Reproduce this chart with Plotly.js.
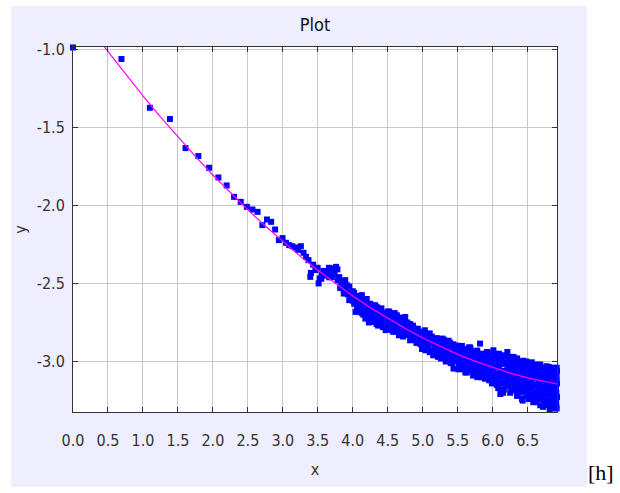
<!DOCTYPE html>
<html><head><meta charset="utf-8">
<script src="https://cdn.plot.ly/plotly-3.0.1.min.js"></script>
<style>
html,body{margin:0;padding:0;background:#fff;width:620px;height:493px;overflow:hidden;}
#chart{position:absolute;left:11px;top:6px;width:576px;height:481px;}
#h{position:absolute;left:588px;top:462px;font-family:"Liberation Serif","DejaVu Serif",serif;font-size:22px;color:#000;line-height:1;}
</style></head><body>
<div id="chart"></div><div id="h">[h]</div>
<script>
// sparse points (n = 1..50)
const sparseX = [0, 0.693, 1.099, 1.386, 1.609, 1.792, 1.946, 2.079, 2.197, 2.303,
  2.398, 2.485, 2.565, 2.639, 2.708, 2.773, 2.833, 2.890, 2.944, 2.996,
  3.045, 3.091, 3.135, 3.178, 3.219, 3.258, 3.296, 3.332, 3.367, 3.393, 3.401,
  3.434, 3.466, 3.497, 3.512, 3.526, 3.555, 3.584, 3.611, 3.638, 3.664, 3.689,
  3.714, 3.738, 3.761, 3.784, 3.807, 3.829, 3.850, 3.871, 3.892, 3.912];
const sparseY = [-0.99, -1.064, -1.376, -1.448, -1.634, -1.685, -1.760, -1.822, -1.873, -1.946,
  -1.978, -2.010, -2.027, -2.042, -2.127, -2.091, -2.106, -2.155, -2.223, -2.210,
  -2.240, -2.255, -2.262, -2.270, -2.285, -2.262, -2.304, -2.330, -2.351, -2.458, -2.433,
  -2.380, -2.415, -2.400, -2.500, -2.468, -2.440, -2.436, -2.430, -2.433, -2.461, -2.450,
  -2.433, -2.404, -2.394, -2.479, -2.460, -2.490, -2.500, -2.565, -2.479, -2.510];

// extra points in the 3.5 - 3.95 cluster
const clusterX = [3.55, 3.62, 3.68, 3.70, 3.74, 3.78, 3.82, 3.86, 3.90, 3.93, 3.58, 3.66];
const clusterY = [-2.47, -2.45, -2.41, -2.46, -2.44, -2.41, -2.53, -2.53, -2.55, -2.57, -2.42, -2.40];

// dense region: column x positions and the y values read in each column
const denseX = [3.95, 4.00, 4.04, 4.08, 4.13, 4.18, 4.23, 4.28, 4.32, 4.36, 4.39, 4.43, 4.47, 4.50,
  4.54, 4.58, 4.63, 4.66, 4.70, 4.75, 4.78, 4.82, 4.86, 4.89, 4.93, 4.97, 5.01, 5.04, 5.08, 5.13,
  5.17, 5.20, 5.24, 5.28, 5.31, 5.35, 5.37, 5.40, 5.44, 5.47, 5.49, 5.52, 5.56, 5.59, 5.61, 5.64,
  5.66, 5.69, 5.71, 5.73, 5.76, 5.79, 5.82, 5.85, 5.87, 5.90, 5.92, 5.95, 5.97, 6.00, 6.01, 6.04,
  6.06, 6.09, 6.11, 6.13, 6.16, 6.18, 6.21, 6.23, 6.25, 6.28, 6.30, 6.32, 6.35, 6.37, 6.40, 6.42,
  6.44, 6.46, 6.48, 6.50, 6.52, 6.54, 6.56, 6.58, 6.61, 6.63, 6.66, 6.68, 6.71, 6.73, 6.75, 6.77,
  6.80, 6.815, 6.82, 6.84, 6.86, 6.87, 6.89, 6.90, 6.91, 6.92];
const denseY = [
  [-2.52, -2.607, -2.56], [-2.61, -2.575, -2.55], [-2.682, -2.62, -2.59], [-2.65, -2.60, -2.68],
  [-2.575, -2.64, -2.69], [-2.725, -2.65, -2.62], [-2.66, -2.75, -2.70], [-2.747, -2.68, -2.64],
  [-2.640, -2.70, -2.74], [-2.66, -2.72, -2.77], [-2.682, -2.73, -2.70], [-2.78, -2.72, -2.69],
  [-2.799, -2.74, -2.70], [-2.72, -2.76, -2.68], [-2.725, -2.77, -2.70], [-2.70, -2.76, -2.81],
  [-2.704, -2.78, -2.74], [-2.832, -2.75, -2.79], [-2.74, -2.80, -2.76], [-2.715, -2.78, -2.82],
  [-2.779, -2.83, -2.75], [-2.864, -2.79, -2.76], [-2.80, -2.84, -2.77], [-2.799, -2.86, -2.82],
  [-2.84, -2.79, -2.88], [-2.842, -2.81, -2.89], [-2.810, -2.86, -2.90], [-2.928, -2.84, -2.82],
  [-2.83, -2.88, -2.91], [-2.875, -2.84, -2.93], [-2.86, -2.92, -2.89], [-2.960, -2.88, -2.85],
  [-2.87, -2.92, -2.94], [-2.853, -2.90, -2.96], [-2.88, -2.94, -2.98], [-2.995, -2.90, -2.87],
  [-2.867, -2.93, -2.96], [-2.89, -2.96, -3.01], [-3.045, -2.92, -2.97, -2.89], [-2.90, -2.95, -3.00],
  [-2.899, -2.93, -2.98], [-2.92, -2.97, -3.03], [-2.952, -2.90, -3.00], [-2.93, -2.98, -3.05],
  [-3.070, -2.95, -3.01], [-2.92, -2.96, -3.01], [-2.910, -2.99, -3.04], [-2.95, -3.02, -2.93],
  [-3.016, -2.97, -3.06], [-2.963, -3.00, -3.04], [-2.94, -3.03, -3.08], [-2.96, -3.00, -3.05],
  [-2.885, -2.97, -3.03], [-3.101, -2.98, -3.04, -2.95], [-3.00, -3.06, -2.96], [-2.995, -2.95, -3.08],
  [-2.939, -3.03, -3.10, -2.99], [-2.98, -3.05, -3.12], [-2.96, -3.02, -3.08], [-2.95, -3.04, -3.11, -3.00],
  [-2.928, -3.06], [-3.123, -2.97, -3.03], [-2.99, -3.08, -3.15], [-2.95, -3.04, -3.12],
  [-3.208, -3.00, -3.09], [-3.016, -3.14, -2.97], [-2.96, -3.06, -3.18], [-3.01, -3.10, -3.15],
  [-2.939, -3.04, -3.12], [-2.98, -3.08, -3.16], [-3.080, -3.01, -3.20], [-2.99, -3.06, -3.13],
  [-2.971, -3.04, -3.11], [-3.02, -3.09, -3.17], [-2.98, -3.07, -3.13, -3.22], [-3.101, -3.03, -3.18],
  [-3.00, -3.08, -3.15], [-3.240, -3.05, -3.12], [-2.995, -3.07, -3.19], [-3.03, -3.10, -3.16],
  [-3.00, -3.13, -3.22], [-3.05, -3.09, -3.18], [-3.01, -3.11, -3.24], [-3.155, -3.04, -3.08],
  [-3.005, -3.12, -3.21], [-3.06, -3.15, -3.26], [-3.070, -3.02, -3.19], [-3.10, -3.04, -3.23],
  [-3.205, -3.08, -3.14], [-3.02, -3.12, -3.28], [-3.120, -3.06, -3.22], [-3.04, -3.16, -3.26],
  [-3.269, -3.10, -3.19], [-3.03, -3.14, -3.23], [-3.035, -3.11, -3.18, -3.28], [-3.31],
  [-3.07, -3.15, -3.25], [-3.05, -3.20, -3.29], [-3.09, -3.13, -3.24], [-3.163, -3.06, -3.27],
  [-3.10, -3.19, -3.30], [-3.080, -3.15, -3.24], [-3.12, -3.20, -3.28], [-3.227, -3.06, -3.14]];

// second set of dense columns, between the first ones
const denseX2 = [4.02, 4.06, 4.11, 4.15, 4.20, 4.25, 4.30, 4.34, 4.41, 4.45, 4.49, 4.52, 4.56, 4.60,
  4.65, 4.68, 4.72, 4.77, 4.80, 4.84, 4.88, 4.91, 4.95, 4.99, 5.03, 5.06, 5.10, 5.15, 5.19, 5.22,
  5.26, 5.30, 5.33, 5.39, 5.42, 5.46, 5.51, 5.54, 5.58, 5.63, 5.68, 5.72, 5.75, 5.78, 5.81, 5.84,
  5.89, 5.94, 5.99, 6.03, 6.08, 6.12, 6.15, 6.20, 6.24, 6.27, 6.31, 6.34, 6.39, 6.43, 6.47, 6.51,
  6.55, 6.59, 6.62, 6.65, 6.69, 6.72, 6.76, 6.79, 6.83, 6.85, 6.88, 6.905, 6.915];
const denseY2 = [
  [-2.56, -2.63], [-2.58, -2.66], [-2.62, -2.67, -2.59], [-2.61, -2.70], [-2.60, -2.68],
  [-2.63, -2.72], [-2.66, -2.73], [-2.68, -2.76, -2.65], [-2.66, -2.75], [-2.70, -2.77],
  [-2.69, -2.79], [-2.74, -2.68], [-2.72, -2.80], [-2.73, -2.69], [-2.76, -2.72, -2.81],
  [-2.73, -2.80], [-2.77, -2.84, -2.72], [-2.76, -2.80], [-2.81, -2.77], [-2.78, -2.86],
  [-2.83, -2.79], [-2.81, -2.88], [-2.86, -2.82], [-2.83, -2.92], [-2.87, -2.80],
  [-2.85, -2.90], [-2.86, -2.94, -2.82], [-2.88, -2.96], [-2.87, -2.94], [-2.90, -2.86, -2.97],
  [-2.88, -2.98], [-2.91, -2.86], [-2.93, -3.00], [-2.91, -2.98, -2.88], [-2.94, -3.01],
  [-2.92, -2.98], [-2.95, -3.05, -2.90], [-2.93, -2.99], [-2.96, -3.03], [-2.94, -3.00, -3.07],
  [-2.97, -3.05, -2.91], [-2.99, -3.09], [-2.96, -3.02], [-2.93, -3.04, -3.10], [-2.99, -3.07],
  [-2.96, -3.02], [-3.01, -3.11, -2.97], [-2.97, -3.07], [-3.02, -3.14, -2.97], [-3.00, -3.09, -2.95],
  [-3.02, -3.17], [-2.98, -3.06, -3.12], [-3.01, -3.09, -3.20], [-2.97, -3.07, -3.14], [-3.03, -3.12, -2.99],
  [-3.05, -3.18, -2.97], [-3.00, -3.10, -3.15], [-3.04, -3.19, -2.99], [-3.03, -3.11, -3.20],
  [-3.02, -3.10, -3.16, -3.25], [-3.06, -3.19, -3.02], [-3.04, -3.14, -3.21], [-3.07, -3.17, -3.24],
  [-3.03, -3.10, -3.21], [-3.07, -3.15, -3.26], [-3.02, -3.11, -3.19], [-3.05, -3.17, -3.24],
  [-3.09, -3.19, -3.29], [-3.06, -3.13, -3.22], [-3.08, -3.16, -3.26], [-3.04, -3.12, -3.21],
  [-3.10, -3.17, -3.27], [-3.04, -3.13, -3.22, -3.29], [-3.07, -3.17, -3.26], [-3.04, -3.10, -3.23, -3.30]];

// fitted curve
const fitX = [0.40, 0.75, 1.00, 1.25, 1.50, 1.75, 2.00, 2.25, 2.50, 2.75, 3.00, 3.25, 3.50, 3.75,
  4.00, 4.25, 4.50, 4.75, 5.00, 5.25, 5.50, 5.75, 6.00, 6.25, 6.50, 6.75, 6.92];
const fitY = [-0.959, -1.161, -1.300, -1.434, -1.563, -1.687, -1.806, -1.920, -2.029, -2.133,
  -2.232, -2.327, -2.416, -2.501, -2.580, -2.655, -2.724, -2.789, -2.849, -2.904, -2.954,
  -2.999, -3.039, -3.074, -3.105, -3.130, -3.144];

const xTickVals = [0, 0.5, 1, 1.5, 2, 2.5, 3, 3.5, 4, 4.5, 5, 5.5, 6, 6.5];
const xTickText = ['0.0','0.5','1.0','1.5','2.0','2.5','3.0','3.5','4.0','4.5','5.0','5.5','6.0','6.5'];
const yTickVals = [-3.0, -2.5, -2.0, -1.5, -1.0];
const yTickText = ['-3.0', '-2.5', '-2.0', '-1.5', '-1.0'];

const ptsX = sparseX.concat(clusterX), ptsY = sparseY.concat(clusterY);
denseX.forEach((x, i) => denseY[i].forEach(y => { ptsX.push(x); ptsY.push(y); }));
denseX2.forEach((x, i) => denseY2[i].forEach(y => { ptsX.push(x); ptsY.push(y); }));

const FONT = 'DejaVu Sans Condensed, DejaVu Sans, sans-serif';

const traces = [
  {x: ptsX, y: ptsY, type: 'scatter', mode: 'markers', cliponaxis: false,
   marker: {symbol: 'square', size: 6, color: '#0000ff', line: {width: 0}}, hoverinfo: 'x+y'},
  {x: fitX, y: fitY, type: 'scatter', mode: 'lines', line: {color: '#ff00ff', width: 1.2}, hoverinfo: 'skip'}
];

const axisCommon = {
  ticks: 'inside', ticklen: 5, tickwidth: 1, tickcolor: '#333',
  showline: true, linecolor: '#333', linewidth: 1, mirror: 'ticks',
  showgrid: true, gridcolor: '#c8c8c8', gridwidth: 1, zeroline: false,
  tickfont: {family: FONT, size: 16, color: '#333'}
};

const layout = {
  width: 576, height: 481,
  paper_bgcolor: '#eeeeff', plot_bgcolor: '#ffffff',
  margin: {l: 62, r: 30, t: 41, b: 75, pad: 0},
  showlegend: false,
  title: {text: 'Plot', font: {family: FONT, size: 18, color: '#111'},
          x: 0.5, xref: 'paper', y: 1 - 19 / 481, yref: 'container', yanchor: 'middle'},
  xaxis: Object.assign({}, axisCommon, {
    range: [0, 6.92], tickmode: 'array', tickvals: xTickVals, ticktext: xTickText,
    ticklabelstandoff: 14,
    title: {text: 'x', font: {family: FONT, size: 16, color: '#333'}, standoff: 14}
  }),
  yaxis: Object.assign({}, axisCommon, {
    range: [-3.323, -0.987], tickmode: 'array', tickvals: yTickVals, ticktext: yTickText,
    ticklabelstandoff: 4,
    title: {text: 'y', font: {family: FONT, size: 16, color: '#333'}, standoff: 10}
  })
};

Plotly.newPlot('chart', traces, layout, {displayModeBar: false, staticPlot: true});
</script>
</body></html>
